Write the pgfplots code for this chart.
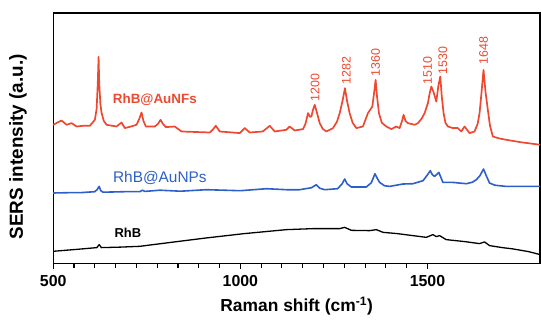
\documentclass[border=0pt]{standalone}
\usepackage{fontspec}
\setmainfont{Liberation Sans}
\usepackage{pgfplots}
\pgfplotsset{compat=1.18}
\definecolor{cred}{RGB}{238,72,48}
\definecolor{cblue}{RGB}{45,95,200}
\begin{document}
\begin{tikzpicture}
\begin{axis}[
  at={(0,0)}, anchor=south west,
  width=487.7bp, height=251bp, scale only axis,
  xmin=500, xmax=1801, ymin=0, ymax=251,
  xtick={500,1000,1500}, minor x tick num=8,
  ytick=\empty, xtick pos=bottom,
  tick align=outside,
  major tick length=5bp, minor tick length=4bp,
  every tick/.style={black, line width=1.1bp},
  axis line style={black, line width=1.4bp},
  /pgf/number format/assume math mode=true,
  /pgf/number format/set thousands separator={},
  xticklabel style={font=\fontsize{16}{18}\selectfont\bfseries, yshift=-3bp},
  xlabel={Raman shift (cm\textsuperscript{-1})},
  ylabel={SERS intensity (a.u.)},
  xlabel style={font=\fontsize{17.5}{20}\selectfont\bfseries, at={(axis description cs:0.5,-0.17)}, anchor=center},
  ylabel style={font=\fontsize{19}{20}\selectfont\bfseries, at={(axis description cs:-0.0724,0.466)}, anchor=center, rotate=0},
  clip=false,
]
% RhB@AuNFs
\addplot[cred, line width=1.7bp, line join=round] coordinates {
(500,139) (510,141) (522.4,143.3) (535.8,139) (549.1,140.7) (562.5,137.3) (580,138) (598,138) (611.3,144)
(616,155) (619,180) (621.2,207) (623,180) (626,160) (629.2,151) (635,143) (642.6,139)
(669.2,137.3) (682.6,141.3) (691.4,135.7) (705,137) (722.6,139) (730,145) (736,151.3) (741,143) (747.5,137.3)
(771.5,137.3) (780,140) (786.7,144) (793,140) (800.9,136.7) (824.9,137.3) (842.8,132.3)
(918.3,131.3) (926,134) (934.3,138) (945,132.3) (998.4,130.7) (1011.7,135.7) (1025.1,131.3)
(1059.8,132.3) (1072,136) (1078.5,138) (1091.8,132.3) (1123,134) (1131.8,137.3) (1145.2,133.3)
(1167.4,134.7) (1174,140) (1180.7,150.7) (1186,147) (1189.8,147.3) (1194,154) (1198.6,159) (1204,152) (1212,140.7) (1220,135) (1229.8,132.3)
(1247.5,135.7) (1258,142) (1265.4,150.7) (1273,163) (1279.5,175.7) (1285,163) (1292,150.7) (1300,141) (1310,135.7)
(1327.5,137.3) (1340.9,150.7) (1352.6,157.3) (1357,170) (1361.4,184) (1365,168) (1370.3,150.7) (1378,141) (1390,137.3)
(1403.4,134.7) (1416.7,137.3) (1425.5,135.7) (1432,143) (1436.2,149) (1441,143) (1447.7,140.7) (1465.6,139)
(1474.4,140.7) (1484,145) (1492.3,150.7) (1501.1,160.7) (1506,171) (1510.2,177.3) (1516,172) (1523.5,162.3)
(1529,178) (1534.2,187.3) (1538,168) (1543,150.7) (1548,141) (1554.5,137.3) (1567.8,135.7) (1581.2,135.7)
(1590.2,132.3) (1599,137.3) (1612.4,130.7) (1625.7,132.3) (1634,140) (1639.1,150.7) (1644,170) (1649.7,194)
(1655,172) (1661.2,154) (1667,138) (1674.6,127.3) (1690,125.5) (1710.3,124) (1750,121.5) (1801,119)
};
% RhB@AuNPs
\addplot[cblue, line width=1.6bp, line join=round] coordinates {
(500,70.7) (540,71) (571,71) (611,72) (617,74) (622.8,77.3) (627,73) (633,71.5) (690,72)
(731.7,72) (738,73.5) (745,72.3) (785,73.5) (840,72.5) (909.5,74) (1000,73) (1070,75)
(1123,74) (1158.6,74) (1190,76) (1203,79) (1212,75.5) (1225.3,74) (1260,75)
(1272,80) (1278.7,84.7) (1285,80) (1296.6,76.7) (1336.6,76.7) (1350,81)
(1359.6,90) (1365,86) (1372.1,81.3) (1385,78) (1398.8,77.3) (1434.3,79.7) (1461,80)
(1488,83) (1496.8,87.3) (1507.5,93) (1513,89) (1519,87.3) (1530.4,91.3) (1535,87)
(1541.1,81.3) (1567.8,81.3) (1603.6,80) (1620,81.5) (1630.3,84) (1640,88) (1649.7,94.7)
(1657,88) (1665.8,80.7) (1680,78.5) (1710.3,77.3) (1801,77.3)
};
% RhB
\addplot[black, line width=1.3bp, line join=round] coordinates {
(500,12.3) (571,14.5) (616.7,16) (622.8,19) (628.7,16) (680,16.5) (731.4,17.3)
(820,21.5) (909.5,25.7) (1010,30) (1123,34) (1194,35) (1265.3,35) (1278.7,36.3)
(1296.6,33.3) (1345.4,33) (1363.3,34) (1381,31.3) (1420,30) (1461,28) (1496.8,26.3)
(1514.4,29) (1523.5,27) (1532.3,28) (1550,24) (1600,22) (1639.1,20) (1652.4,21.7)
(1665.8,18) (1700,16) (1728,14.7) (1770,12) (1801,9)
};
\node[cred, font=\fontsize{13.5}{15}\selectfont\bfseries] at (axis cs:771.5,164) {RhB@AuNFs};
\node[cblue, font=\fontsize{15.5}{17}\selectfont] at (axis cs:785,86) {RhB@AuNPs};
\node[black, font=\fontsize{13}{15}\selectfont\bfseries] at (axis cs:699.6,30.5) {RhB};
\begin{scope}[every node/.style={cred, font=\fontsize{12.5}{14}\selectfont, rotate=90, anchor=west, inner sep=0.5bp}]
\node at (axis cs:1200,162) {1200};
\node at (axis cs:1283,179) {1282};
\node at (axis cs:1361,187) {1360};
\node at (axis cs:1500.3,179) {1510};
\node at (axis cs:1541,189) {1530};
\node at (axis cs:1649.7,199) {1648};
\end{scope}
\end{axis}
\path[use as bounding box] (-53.3bp,-56bp) rectangle (487.7bp,264bp);
\end{tikzpicture}
\end{document}
